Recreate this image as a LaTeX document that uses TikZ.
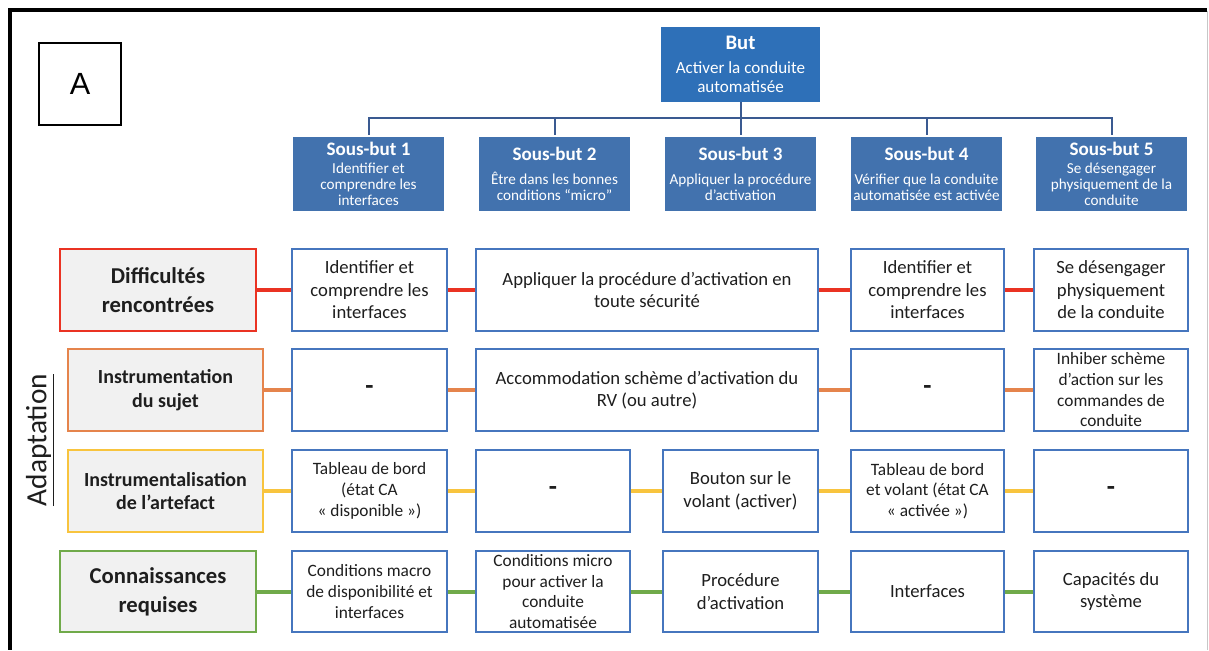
\documentclass[tikz,border=0pt]{standalone}
\usepackage{fontspec}
\setmainfont{Carlito}
\newfontfamily\arialfont{Liberation Sans}
\definecolor{cellblue}{RGB}{70,118,190}
\definecolor{butblue}{RGB}{46,112,184}
\definecolor{subblue}{RGB}{66,114,174}
\definecolor{treeblue}{RGB}{58,90,145}
\definecolor{rowred}{RGB}{234,51,35}
\definecolor{roworange}{RGB}{229,132,76}
\definecolor{rowyellow}{RGB}{248,196,62}
\definecolor{rowgreen}{RGB}{112,170,74}
\definecolor{labfill}{RGB}{241,241,241}
\definecolor{textdark}{RGB}{30,30,30}
\begin{document}
\begin{tikzpicture}[x=0.75pt,y=-0.75pt,
  wh/.style 2 args={minimum width=#1*0.75pt, minimum height=#2*0.75pt},
  cell/.style={draw=cellblue, line width=1.5pt, fill=white, align=center, inner sep=0pt, text=textdark, font=\fontsize{14}{16.9}\selectfont},
  cellsm/.style={cell, font=\fontsize{13}{15.5}\selectfont},
  dashcell/.style={cell, font=\bfseries\fontsize{20}{22}\selectfont},
  lab/.style={fill=labfill, line width=1.5pt, align=center, inner sep=0pt, text=textdark, font=\bfseries\fontsize{17}{21.5}\selectfont},
  labsm/.style={lab, font=\bfseries\fontsize{15}{17.5}\selectfont},
  goal/.style={fill=butblue, text=white, align=center, inner sep=0pt, font=\fontsize{12.8}{14.3}\selectfont},
  sub/.style={fill=subblue, text=white, align=center, inner sep=0pt, font=\fontsize{11.4}{12}\selectfont},
  tree/.style={draw=treeblue, line width=1.5pt},
  link/.style={line width=3pt}
]
\useasboundingbox (0,0) rectangle (1209,650);
% frame
\draw[line width=3pt] (8,10) -- (1207,10);
\draw[line width=3.2pt] (10,8) -- (10,650);
\draw[black!22, line width=0.75pt] (1207,11) -- (1207,650);
% A box
\node[draw, line width=1.6pt, wh={82}{82}, inner sep=0pt, font=\arialfont\fontsize{23}{27}\selectfont] (boxA) at (80,84) {A};
% goal
\node[goal, wh={159}{75}] (but) at (740.5,64.5) {{\bfseries\fontsize{15.5}{18}\selectfont But}\\[4pt]Activer la conduite\\automatisée};
\node[sub, wh={151}{74}] (sb1) at (368.5,174) {{\bfseries\fontsize{14.3}{16}\selectfont Sous-but 1}\\[2pt]Identifier et\\comprendre les\\interfaces};
\node[sub, wh={151}{74}] (sb2) at (554.5,174) {{\bfseries\fontsize{14.3}{16}\selectfont Sous-but 2}\\[6pt]Être dans les bonnes\\conditions “micro”};
\node[sub, wh={151}{74}] (sb3) at (740.5,174) {{\bfseries\fontsize{14.3}{16}\selectfont Sous-but 3}\\[6pt]Appliquer la procédure\\d’activation};
\node[sub, wh={151}{74}] (sb4) at (926.5,174) {{\bfseries\fontsize{14.3}{16}\selectfont Sous-but 4}\\[6pt]Vérifier que la conduite\\automatisée est activée};
\node[sub, wh={151}{74}] (sb5) at (1111.5,174) {{\bfseries\fontsize{14.3}{16}\selectfont Sous-but 5}\\[2pt]Se désengager\\physiquement de la\\conduite};
\coordinate (bus) at (740.5,118);
\draw[tree] (but.south) -- ([yshift=1.5pt]sb3.north);
\draw[tree] ([yshift=1.5pt]sb1.north) -- (sb1.north |- bus) -- (sb5.north |- bus) -- ([yshift=1.5pt]sb5.north);
\draw[tree] ([yshift=1.5pt]sb2.north) -- (sb2.north |- bus);
\draw[tree] ([yshift=1.5pt]sb4.north) -- (sb4.north |- bus);
% Adaptation
\node[rotate=90, inner sep=0pt, text=textdark, font=\fontsize{22}{26}\selectfont] (adapt) at (40,440) {\underline{Adaptation}};
% row 1
\node[lab, draw=rowred, wh={196}{82}] (l1) at (158,290) {Difficultés\\rencontrées};
\node[cell, wh={155}{82}] (c11) at (369.5,290) {Identifier et\\comprendre les\\interfaces};
\node[cell, wh={342}{82}] (c12) at (647,290) {Appliquer la procédure d’activation en\\toute sécurité};
\node[cell, wh={153}{82}] (c14) at (927.5,290) {Identifier et\\comprendre les\\interfaces};
\node[cell, wh={154}{82}] (c15) at (1111,290) {Se désengager\\physiquement\\de la conduite};
% row 2
\node[labsm, draw=roworange, wh={195}{82}] (l2) at (165.5,390) {Instrumentation\\du sujet};
\node[dashcell, wh={155}{82}] (c21) at (369.5,390) {-};
\node[cell, wh={342}{82}] (c22) at (647,390) {Accommodation schème d’activation du\\RV (ou autre)};
\node[dashcell, wh={153}{82}] (c24) at (927.5,390) {-};
\node[cellsm, wh={154}{82}] (c25) at (1111,390) {Inhiber schème\\d’action sur les\\commandes de\\conduite};
% row 3
\node[labsm, draw=rowyellow, wh={195}{82}] (l3) at (165.5,491) {Instrumentalisation\\de l’artefact};
\node[cellsm, wh={155}{82}] (c31) at (369.5,491) {Tableau de bord\\(état CA\\« disponible »)};
\node[dashcell, wh={154}{82}] (c32) at (553,491) {-};
\node[cell, wh={155}{82}] (c33) at (740.5,491) {Bouton sur le\\volant (activer)};
\node[cellsm, wh={153}{82}] (c34) at (927.5,491) {Tableau de bord\\et volant (état CA\\« activée »)};
\node[dashcell, wh={154}{82}] (c35) at (1111,491) {-};
% row 4
\node[lab, draw=rowgreen, wh={196}{81}] (l4) at (158,591.5) {Connaissances\\requises};
\node[cellsm, wh={155}{81}] (c41) at (369.5,591.5) {Conditions macro\\de disponibilité et\\interfaces};
\node[cellsm, wh={154}{81}] (c42) at (553,591.5) {Conditions micro\\pour activer la\\conduite\\automatisée};
\node[cell, wh={155}{81}] (c43) at (740.5,591.5) {Procédure\\d’activation};
\node[cell, wh={153}{81}] (c44) at (927.5,591.5) {Interfaces};
\node[cell, wh={154}{81}] (c45) at (1111,591.5) {Capacités du\\système};
% connectors
\draw[link, rowred] (l1) -- (c11);
\draw[link, rowred] (c11) -- (c12);
\draw[link, rowred] (c12) -- (c14);
\draw[link, rowred] (c14) -- (c15);
\draw[link, roworange] (l2) -- (c21);
\draw[link, roworange] (c21) -- (c22);
\draw[link, roworange] (c22) -- (c24);
\draw[link, roworange] (c24) -- (c25);
\draw[link, rowyellow] (l3) -- (c31);
\draw[link, rowyellow] (c31) -- (c32);
\draw[link, rowyellow] (c32) -- (c33);
\draw[link, rowyellow] (c33) -- (c34);
\draw[link, rowyellow] (c34) -- (c35);
\draw[link, rowgreen] (l4) -- (c41);
\draw[link, rowgreen] (c41) -- (c42);
\draw[link, rowgreen] (c42) -- (c43);
\draw[link, rowgreen] (c43) -- (c44);
\draw[link, rowgreen] (c44) -- (c45);
\end{tikzpicture}
\end{document}
